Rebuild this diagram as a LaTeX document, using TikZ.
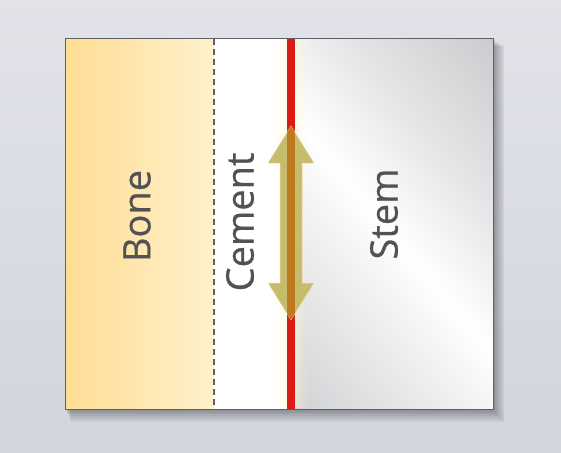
\documentclass[tikz,border=0pt]{standalone}
\usepackage{fontspec}
\setmainfont{Open Sans}
\newfontfamily\zonefont[FakeBold=0.6]{Open Sans}
\usetikzlibrary{positioning}
\definecolor{bgtop}{RGB}{226,227,233}
\definecolor{bgbottom}{RGB}{210,212,222}
\definecolor{boneleft}{RGB}{255,221,148}
\definecolor{boneright}{RGB}{255,241,204}
\definecolor{framegrey}{RGB}{95,96,100}
\definecolor{labelgrey}{RGB}{82,82,84}
\definecolor{interface}{RGB}{220,26,22}
\definecolor{glow}{RGB}{255,250,215}
\definecolor{arrowfill}{RGB}{199,187,108}
\definecolor{arrowedge}{RGB}{236,226,180}
\definecolor{overlap}{RGB}{190,122,30}
\definecolor{metA}{RGB}{185,186,190}
\definecolor{metB}{RGB}{206,207,210}
\definecolor{metC}{RGB}{246,246,247}
\definecolor{metD}{RGB}{229,229,231}
\definecolor{metE}{RGB}{194,195,198}
\definecolor{metF}{RGB}{158,159,164}
\pgfdeclarehorizontalshading{stemmetal}{100bp}{color(0bp)=(metA); color(25bp)=(metB); color(45bp)=(metC); color(49bp)=(white); color(60bp)=(metD); color(78bp)=(metE); color(100bp)=(metF)}
\tikzset{
  label text/.style={rotate=90, text=labelgrey, font=\zonefont\fontsize{38}{38}\selectfont},
  zone line/.style={framegrey, line width=1.1pt, dash pattern=on 6pt off 4pt},
}
\begin{document}
\begin{tikzpicture}[x=1pt, y=-1pt]
\useasboundingbox (0,0) rectangle (561,452);
% background and shadow
\shade[top color=bgtop, bottom color=bgbottom] (0,0) rectangle (561,452);
\foreach \s in {2,4,...,14} {
  \fill[black, opacity=0.05] (65+0.4*\s, 39+0.5*\s) rectangle (493+0.8*\s, 409+0.9*\s);
}
% bone, cement, stem
\shade[left color=boneleft, right color=boneright] (65,39) rectangle (214,409);
\fill[white] (214,39) rectangle (295,409);
\begin{scope}
  \clip (295,39) rectangle (493,409);
  \shade[shading=stemmetal, shading angle=40] (184,14) rectangle (604,434);
\end{scope}
\foreach \w/\o in {34/0.10, 24/0.16, 16/0.25} {
  \draw[glow, line width=\w, opacity=\o] (291,40) -- (291,408);
}
\draw[zone line] (214,39) -- (214,409);
\fill[interface] (287,39) rectangle (295,409);
\draw[framegrey, line width=1pt] (65,39) rectangle (493,409);
% double arrow
\coordinate (tiptop) at (291,126);
\coordinate (tipbot) at (291,320);
\path[fill=arrowfill, draw=arrowedge, line width=0.5pt]
  (tiptop) -- (314,163) -- (302,163) -- (302,283) -- (314,283) -- (tipbot)
  -- (268,283) -- (280,283) -- (280,163) -- (268,163) -- cycle;
\begin{scope}
  \clip (tiptop) -- (314,163) -- (302,163) -- (302,283) -- (314,283) -- (tipbot)
    -- (268,283) -- (280,283) -- (280,163) -- (268,163) -- cycle;
  \fill[overlap] (287,120) rectangle (295,326);
\end{scope}
% labels
\node[label text] (bone) at (137,216) {Bone};
\node[label text] (cement) at (240,222) {Cement};
\node[label text] (stem) at (384,214) {Stem};
\end{tikzpicture}
\end{document}
